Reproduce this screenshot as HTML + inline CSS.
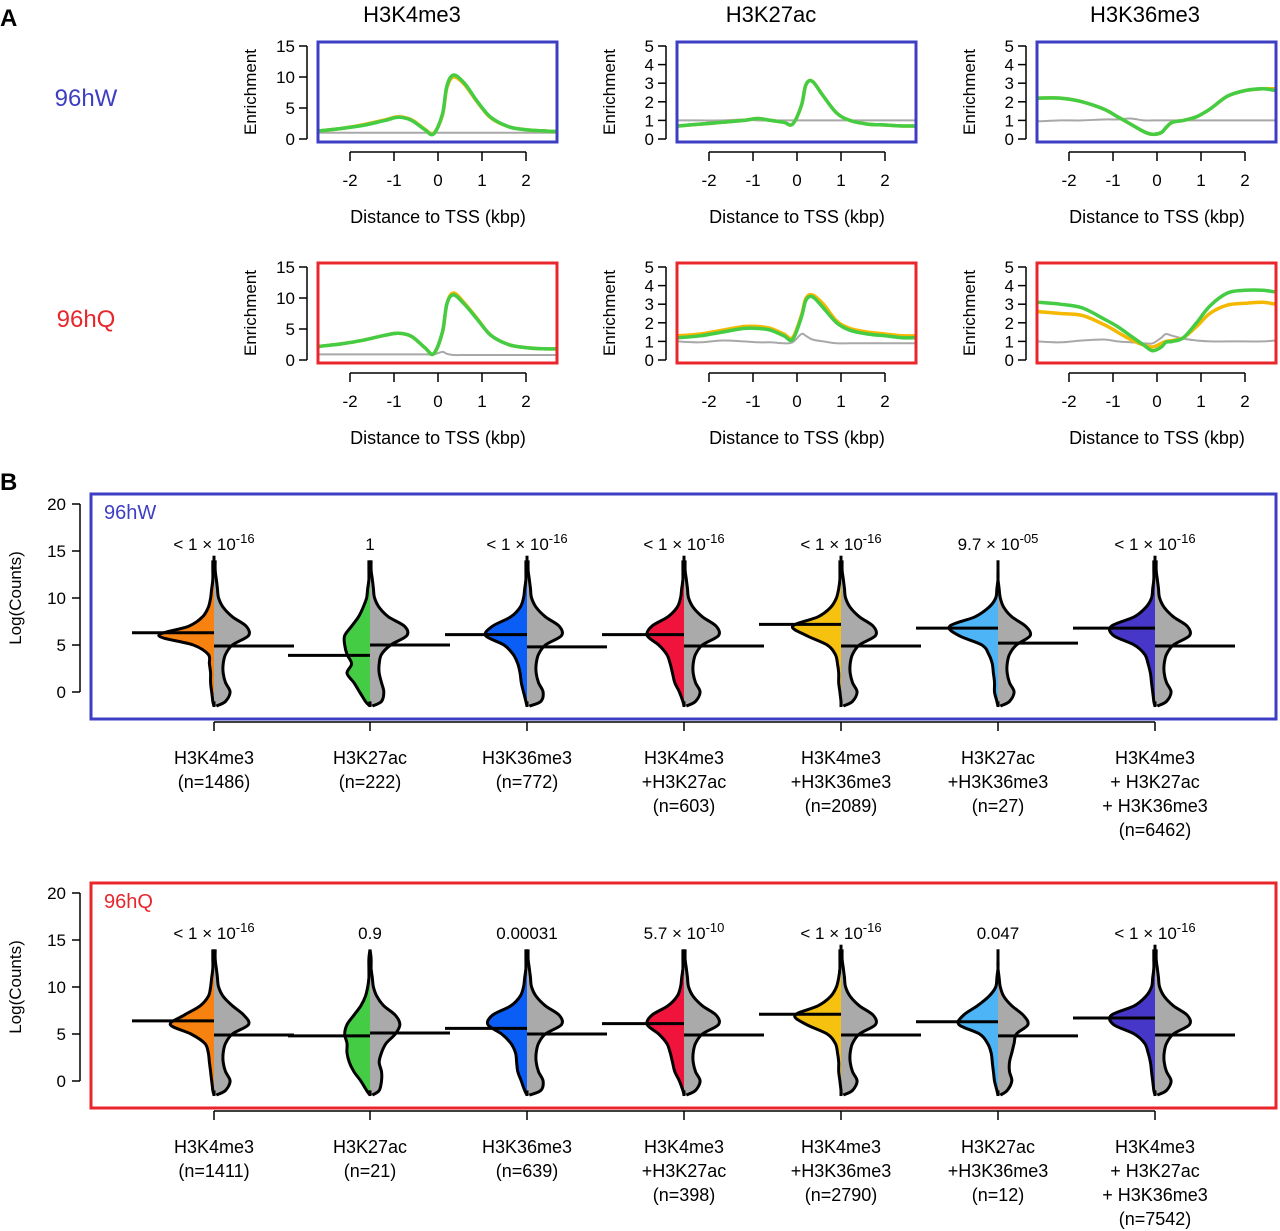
<!DOCTYPE html>
<html><head><meta charset="utf-8"><style>
body{margin:0;background:#fff}
svg{display:block;font-family:"Liberation Sans",Arial,sans-serif}
</style></head><body>
<svg id="fig" width="1280" height="1231" viewBox="0 0 1280 1231" xmlns="http://www.w3.org/2000/svg"></svg>
<script>
// ---------- Panel A data ----------
const xKbp = [-2.7,-2.2,-1.7,-1.2,-0.9,-0.6,-0.3,-0.1,0.1,0.2,0.35,0.6,0.9,1.2,1.6,2.0,2.4,2.7];
const marks = ["H3K4me3","H3K27ac","H3K36me3"];
const yMaxA = [15,5,5];
const yTicksA = [[0,5,10,15],[0,1,2,3,4,5],[0,1,2,3,4,5]];
const xTicksA = [-2,-1,0,1,2];
const wGreen = [
 [1.3,1.7,2.2,3.0,3.5,3.0,1.5,0.8,4,8.5,10.3,9,6,3.5,2,1.5,1.3,1.2],
 [0.7,0.8,0.9,1.0,1.1,1.0,0.9,0.8,1.8,2.9,3.1,2.3,1.4,1.0,0.8,0.75,0.7,0.7],
 [2.2,2.2,2.0,1.6,1.2,0.8,0.4,0.25,0.35,0.6,0.9,1.0,1.2,1.6,2.3,2.6,2.7,2.6]];
const wOrange = [
 [1.3,1.7,2.3,3.1,3.6,3.1,1.6,0.9,3.8,8.2,10.0,8.8,5.9,3.4,2,1.5,1.3,1.2],
 [0.7,0.8,0.9,1.0,1.1,1.0,0.9,0.8,1.8,2.9,3.1,2.3,1.4,1.0,0.8,0.75,0.7,0.7],
 [2.2,2.2,2.0,1.6,1.2,0.8,0.4,0.25,0.35,0.6,0.9,1.0,1.2,1.6,2.3,2.6,2.7,2.7]];
const wGray = [
 [1.0,1.0,1.0,1.0,1.0,1.0,1.0,1.0,1.0,1.0,1.0,1.0,1.0,1.0,1.0,1.0,1.0,1.0],
 [1.0,1.0,1.0,1.05,1.0,1.0,1.0,1.0,1.0,1.0,1.0,1.0,1.0,1.0,1.0,1.0,1.0,1.0],
 [0.95,1.0,1.0,1.05,1.05,1.1,1.0,1.0,1.0,1.0,1.0,1.0,1.0,1.0,1.0,1.0,1.0,1.0]];
const qGreen = [
 [2.2,2.6,3.2,4.0,4.3,3.8,2.0,1.0,4.5,9,10.5,9,6.5,4,2.5,2.0,1.8,1.8],
 [1.2,1.3,1.5,1.7,1.7,1.6,1.3,1.1,2.3,3.2,3.4,2.8,2.0,1.6,1.4,1.3,1.2,1.2],
 [3.1,3.0,2.8,2.2,1.8,1.3,0.8,0.5,0.7,0.95,1.0,1.2,2.0,2.9,3.6,3.75,3.75,3.65]];
const qOrange = [
 [2.2,2.6,3.2,4.0,4.3,3.8,2.0,1.0,4.4,9,10.8,9.2,6.6,4,2.5,2.0,1.8,1.8],
 [1.3,1.4,1.6,1.8,1.8,1.7,1.4,1.2,2.4,3.3,3.5,3.0,2.1,1.7,1.5,1.4,1.3,1.3],
 [2.6,2.5,2.4,1.9,1.5,1.1,0.8,0.7,0.9,1.0,1.05,1.2,1.8,2.5,2.95,3.05,3.1,3.0]];
const qGray = [
 [0.9,0.9,0.9,0.9,0.9,0.9,0.9,0.9,1.3,1.0,0.8,0.8,0.8,0.8,0.8,0.8,0.8,0.8],
 [1.0,0.95,1.05,1.0,0.95,0.95,0.9,0.95,1.4,1.3,1.1,1.0,0.9,0.9,0.9,0.9,0.9,0.9],
 [1.0,0.95,1.05,1.1,1.0,0.95,0.9,0.9,1.2,1.4,1.3,1.15,1.05,1.0,1.0,1.0,1.0,1.05]];

// ---------- Panel B data ----------
const groupLabels = [["H3K4me3"],["H3K27ac"],["H3K36me3"],["H3K4me3","+H3K27ac"],["H3K4me3","+H3K36me3"],["H3K27ac","+H3K36me3"],["H3K4me3","+ H3K27ac","+ H3K36me3"]];
const nW = [1486,222,772,603,2089,27,6462];
const nQ = [1411,21,639,398,2790,12,7542];
const pW = [["< 1 × 10","-16"],["1",""],["< 1 × 10","-16"],["< 1 × 10","-16"],["< 1 × 10","-16"],["9.7 × 10","-05"],["< 1 × 10","-16"]];
const pQ = [["< 1 × 10","-16"],["0.9",""],["0.00031",""],["5.7 × 10","-10"],["< 1 × 10","-16"],["0.047",""],["< 1 × 10","-16"]];
const groupColors = ["#F7820F","#44CC44","#0A5EF5","#F0143C","#F7C10F","#4DB5F5","#4637C8"];
const medLeftW = [6.3,3.9,6.1,6.1,7.2,6.8,6.8];
const medRightW = [4.9,5.0,4.8,4.9,4.9,5.2,4.9];
const medLeftQ = [6.4,4.8,5.6,6.1,7.1,6.3,6.7];
const medRightQ = [4.9,5.1,5.0,4.9,4.9,4.8,4.9];
const densLevels = [-1.5,-1,0,1,2,3,4,5,6,7,8,9,10,11,12,13,14];
const topW = [14.5,14,14.5,14.5,14.5,11.5,14.5];
const topQ = [14,13,14,14,14.5,11,14.5];
const leftW = [
 [0,1,2,3,3,4,5,18,48,22,10,5,3,2,1,1,1],
 [0,4,9,14,20,16,20,22,22,16,10,6,3,2,1,1,1],
 [0,1,3,5,6,8,12,20,36,30,14,6,3,2,1,1,1],
 [0,1,4,8,10,12,15,22,32,28,14,6,3,2,1,1,1],
 [0,0,1,2,2,3,5,12,30,42,20,9,4,2,1,1,1],
 [0,1,3,3,4,5,8,14,34,42,20,8,2,1,0,0,0],
 [0,1,2,3,4,6,9,18,36,38,18,8,3,2,1,1,1]];
const rightW = [
 [2,10,14,10,8,8,10,16,30,28,16,8,4,3,2,1,1],
 [2,10,12,10,8,8,10,18,32,30,16,8,4,3,2,1,1],
 [2,12,14,10,8,8,10,16,30,28,16,8,4,3,2,1,1],
 [2,10,14,10,8,8,10,16,30,28,16,8,4,3,2,1,1],
 [2,10,14,10,8,8,10,16,30,28,16,8,4,3,2,1,1],
 [2,10,14,10,8,8,10,16,28,24,12,5,2,1,0,0,0],
 [2,10,14,10,8,8,10,16,30,28,16,8,4,3,2,1,1]];
const leftQ = [
 [0,1,2,3,4,5,8,20,38,26,12,5,3,2,1,1,1],
 [0,3,8,14,18,20,20,22,20,14,8,4,2,1,1,1,0],
 [0,2,5,8,9,10,14,22,34,30,14,6,3,2,1,1,1],
 [0,1,4,8,10,12,15,22,32,28,14,6,3,2,1,1,1],
 [0,0,1,2,2,3,5,12,30,40,20,9,4,2,1,1,1],
 [0,1,3,4,5,6,9,16,34,30,18,8,2,1,0,0,0],
 [0,1,2,3,4,6,9,18,36,38,18,8,3,2,1,1,1]];
const rightQ = [
 [2,10,14,10,8,8,10,16,30,26,16,8,4,3,2,1,1],
 [2,8,10,10,8,10,14,22,26,22,12,6,3,2,1,1,0],
 [2,12,14,10,8,8,10,16,30,28,16,8,4,3,2,1,1],
 [2,10,14,10,8,8,10,16,30,28,16,8,4,3,2,1,1],
 [2,10,14,10,8,8,10,16,30,28,16,8,4,3,2,1,1],
 [2,8,12,10,10,12,14,16,26,22,12,5,2,1,0,0,0],
 [2,10,14,10,8,8,10,16,30,28,16,8,4,3,2,1,1]];
const yTicksB = [0,5,10,15,20];

// ---------- helpers ----------
const NS="http://www.w3.org/2000/svg";
const svg=document.getElementById('fig');
function el(tag,attrs,parent){const e=document.createElementNS(NS,tag);for(const k in attrs)e.setAttribute(k,attrs[k]);(parent||svg).appendChild(e);return e;}
function txt(s,x,y,size,anchor,fill,parent){const t=el('text',{x:x,y:y,'font-size':size,'text-anchor':anchor||'middle',fill:fill||'#000'},parent);t.textContent=s;return t;}
function smooth(pts){ // Catmull-Rom to cubic bezier, returns segment string (without initial M)
 let d='';
 for(let i=0;i<pts.length-1;i++){
  const p0=pts[Math.max(0,i-1)],p1=pts[i],p2=pts[i+1],p3=pts[Math.min(pts.length-1,i+2)];
  const c1=[p1[0]+(p2[0]-p0[0])/6,p1[1]+(p2[1]-p0[1])/6];
  const c2=[p2[0]-(p3[0]-p1[0])/6,p2[1]-(p3[1]-p1[1])/6];
  d+=` C${c1[0].toFixed(1)},${c1[1].toFixed(1)} ${c2[0].toFixed(1)},${c2[1].toFixed(1)} ${p2[0].toFixed(1)},${p2[1].toFixed(1)}`;
 }
 return d;
}

const BLUE="#3E3EC4", RED="#E8262B";
let t;
t=txt("A",0,26,24,'start');t.setAttribute('font-weight','bold');


t=txt("B",0,490,24,'start');t.setAttribute('font-weight','bold');



const colTitleX=[412,771,1145];
marks.forEach((m,i)=>{const tt=txt(m,colTitleX[i],22,22);
 
 });
t=txt("96hW",86,106,24,'middle',BLUE);


t=txt("96hQ",86,327,24,'middle',RED);



const boxLeft=[318,677,1037];
function profilePanel(row,ci){
 const g=el('g',{});
 
 
 const oy=row*221;
 const bx=boxLeft[ci], bw=239, by=42+oy, bh=100;
 const xs=v=>bx+120+v*44;
 const ys=v=>by+97-v*(93/yMaxA[ci]);
 const axX=bx-11;
 el('line',{x1:axX,x2:axX,y1:ys(0),y2:ys(yMaxA[ci]),stroke:'#000','stroke-width':1.5},g);
 yTicksA[ci].forEach(v=>{el('line',{x1:axX-8,x2:axX,y1:ys(v),y2:ys(v),stroke:'#000','stroke-width':1.5},g);
  txt(String(v),axX-12,ys(v)+6,17,'end','#000',g);});
 const yl=txt("Enrichment",0,0,17,'middle','#000',g);
 yl.setAttribute('transform',`translate(${bx-62},${by+50}) rotate(-90)`);
 const axY=by+110;
 el('line',{x1:xs(-2),x2:xs(2),y1:axY,y2:axY,stroke:'#000','stroke-width':1.5},g);
 xTicksA.forEach(v=>{el('line',{x1:xs(v),x2:xs(v),y1:axY,y2:axY+9,stroke:'#000','stroke-width':1.5},g);
  txt(String(v),xs(v),axY+34,17,'middle','#000',g);});
 txt("Distance to TSS (kbp)",xs(0),by+181,18,'middle','#000',g);
 const series=row?[[qGray,'#A8A8A8',2],[qOrange,'#F5B800',3.5],[qGreen,'#44CC44',3.5]]:[[wGray,'#A8A8A8',2],[wOrange,'#F5B800',3.5],[wGreen,'#44CC44',3.5]];
 series.forEach(([arr,col,w],si)=>{
  const pts=arr[ci].map((v,i)=>[xs(xKbp[i]),ys(v)]);
  const d=`M${pts[0][0].toFixed(1)},${pts[0][1].toFixed(1)}`+smooth(pts);
  const pl=el('path',{d:d,fill:'none',stroke:col,'stroke-width':w,'stroke-linejoin':'round'},g);
  
  
 });
 const r=el('rect',{x:bx,y:by,width:bw,height:bh,fill:'none',stroke:row?RED:BLUE,'stroke-width':3},g);
 
 
}
for(let r=0;r<2;r++)for(let c=0;c<3;c++)profilePanel(r,c);

// ---------- Panel B ----------
const groupX=[214,370,527,684,841,998,1155];
function violinPanel(p){
 const oy=p*389;
 const g=el('g',{});
 
 
 const ys=v=>692+oy-v*9.4;
 const frameCol=p?RED:BLUE;
 el('line',{x1:80,x2:80,y1:ys(0),y2:ys(20),stroke:'#000','stroke-width':1.5},g);
 yTicksB.forEach(v=>{el('line',{x1:72,x2:80,y1:ys(v),y2:ys(v),stroke:'#000','stroke-width':1.5},g);
  txt(String(v),66,ys(v)+6,17,'end','#000',g);});
 const yl=txt("Log(Counts)",0,0,17,'middle','#000',g);
 yl.setAttribute('transform',`translate(21,${ys(10)}) rotate(-90)`);
 const L=p?leftQ:leftW, R=p?rightQ:rightW, mL=p?medLeftQ:medLeftW, mR=p?medRightQ:medRightW, tp=p?topQ:topW, pv=p?pQ:pW, nn=p?nQ:nW;
 groupX.forEach((cx,gi)=>{
  const vg=el('g',{},g);
  
  
  const k=1.15;
  const yb=ys(densLevels[0]), yt=ys(densLevels[densLevels.length-1]);
  const lpts=densLevels.map((lv,i)=>[cx-L[gi][i]*k,ys(lv)]);
  const rpts=densLevels.map((lv,i)=>[cx+R[gi][i]*k,ys(lv)]);
  const lcurve=`M${lpts[0][0].toFixed(1)},${lpts[0][1].toFixed(1)}`+smooth(lpts);
  const rcurve=`M${rpts[0][0].toFixed(1)},${rpts[0][1].toFixed(1)}`+smooth(rpts);
  const lh=el('path',{d:`M${cx},${yb} L`+lcurve.slice(1)+` L${cx},${yt} Z`,fill:groupColors[gi],stroke:'none'},vg);
  
  
  const rh=el('path',{d:`M${cx},${yb} L`+rcurve.slice(1)+` L${cx},${yt} Z`,fill:'#AAAAAA',stroke:'none'},vg);
  
  
  el('path',{d:lcurve,fill:'none',stroke:'#000','stroke-width':3,'stroke-linejoin':'round'},vg);
  el('path',{d:rcurve,fill:'none',stroke:'#000','stroke-width':3,'stroke-linejoin':'round'},vg);
  el('line',{x1:cx,x2:cx,y1:ys(13),y2:ys(tp[gi]),stroke:'#000','stroke-width':3},vg);
  el('line',{x1:cx,x2:cx,y1:ys(-1.6),y2:ys(-1),stroke:'#000','stroke-width':3},vg);
  const ml=el('line',{x1:cx-82,x2:cx,y1:ys(mL[gi]),y2:ys(mL[gi]),stroke:'#000','stroke-width':3},vg);
  
  
  const mr=el('line',{x1:cx,x2:cx+80,y1:ys(mR[gi]),y2:ys(mR[gi]),stroke:'#000','stroke-width':3},vg);
  
  
  const pt=el('text',{x:cx,y:550+oy,'font-size':17,'text-anchor':'middle'},vg);
  
  
  const a=el('tspan',{},pt);a.textContent=pv[gi][0];
  if(pv[gi][1]){const b=el('tspan',{dy:-7,'font-size':13},pt);b.textContent=pv[gi][1];}
  el('line',{x1:cx,x2:cx,y1:719+oy+3,y2:719+oy+12,stroke:'#000','stroke-width':1.5},g);
  const lines=groupLabels[gi].concat(['(n='+nn[gi]+')']);
  lines.forEach((s,li)=>{const lt=txt(s,cx,764+oy+li*24,18,'middle','#000',g);
   
   });
 });
 el('line',{x1:groupX[0],x2:groupX[6],y1:719+oy+3,y2:719+oy+3,stroke:'#000','stroke-width':1.5},g);
 const fr=el('rect',{x:91,y:494+oy,width:1185,height:225,fill:'none',stroke:frameCol,'stroke-width':3},g);
 
 
 const pl=txt(p?"96hQ":"96hW",104,519+oy,20,'start',frameCol,g);
 
 
}
violinPanel(0);violinPanel(1);
</script>
</body></html>
